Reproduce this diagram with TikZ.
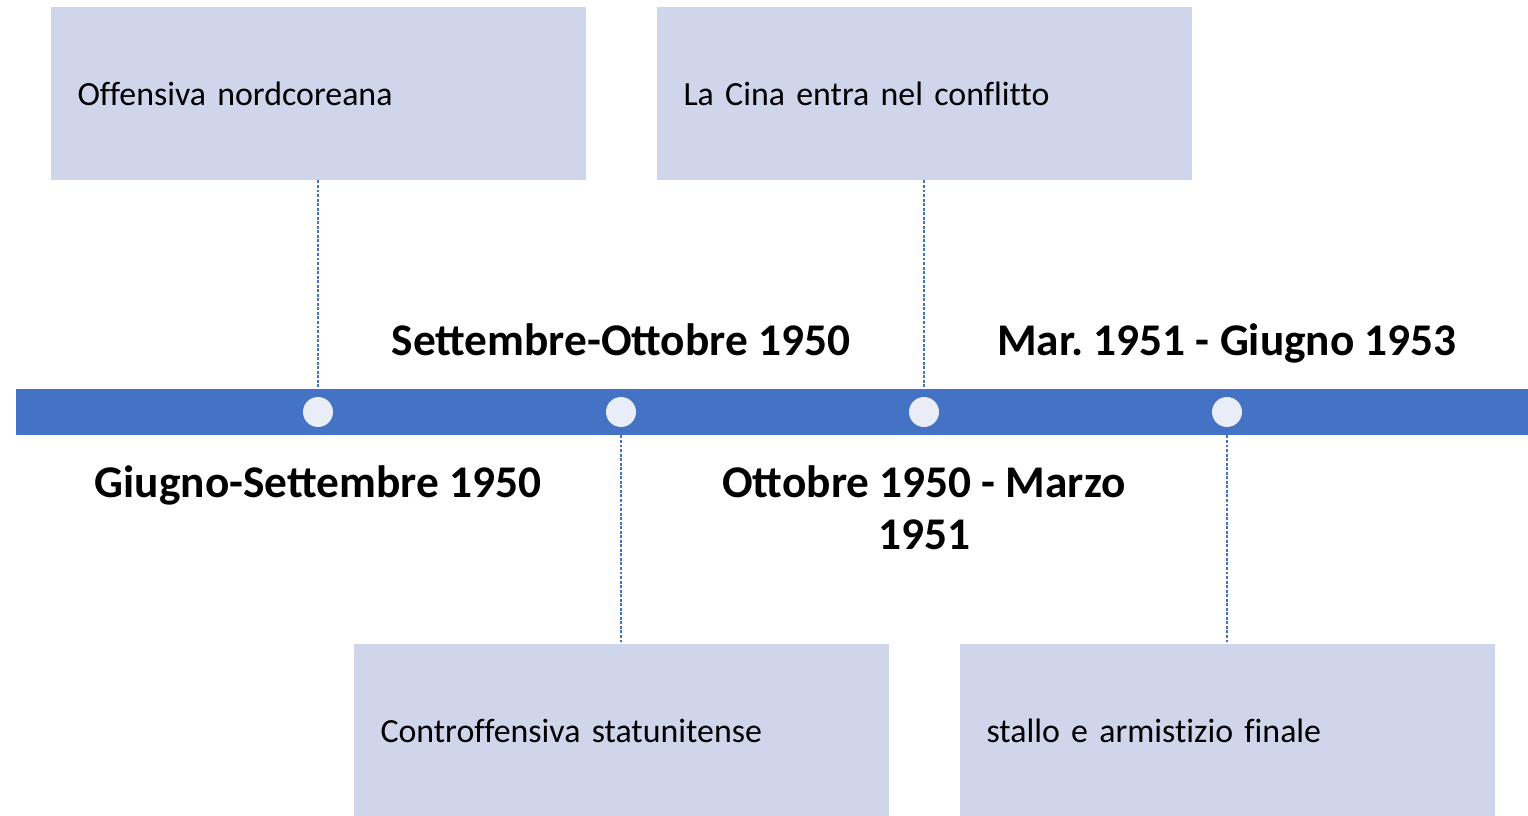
\documentclass[tikz,border=0pt]{standalone}
\usepackage{fontspec}
\setmainfont{Carlito}
\newfontfamily\boxfont{Carlito}[Ligatures=NoCommon]
\newcommand\evfont{\boxfont\fontsize{25.4}{30}\selectfont\fontdimen2\font=4.4pt\relax}
\frenchspacing
\definecolor{barblue}{RGB}{68,114,196}
\definecolor{boxfill}{RGB}{207,213,234}
\definecolor{dotfill}{RGB}{233,237,247}
\tikzset{every picture/.style={line width=0.75pt}}
\tikzset{
  eventbox/.style={rectangle, fill=boxfill, inner sep=0pt, inner xsep=20.25pt,
    minimum width=401.25pt, minimum height=129.75pt, text width=360.75pt,
    align=left, font=\evfont},
  tdot/.style={circle, fill=dotfill, inner sep=0pt, minimum size=22.5pt},
  datelbl/.style={anchor=base, align=center, font=\fontsize{34}{39}\selectfont\bfseries},
  leader/.style={draw=barblue, line width=0.9pt, dash pattern={on 2.2pt off 1.2pt}}
}

\begin{document}
\begin{tikzpicture}[x=0.75pt,y=0.75pt,yscale=-1,xscale=1]
\useasboundingbox (0,0) rectangle (1528,816);

%Shape: Rectangle [id:bar]
\node (bar) [rectangle, fill=barblue, inner sep=0pt, minimum width=1134pt, minimum height=34.5pt] at (772,412) {};

%Shape: Circle [id:dots]
\node (d1) [tdot] at (318,412) {};
\node (d2) [tdot] at (621,412) {};
\node (d3) [tdot] at (924,412) {};
\node (d4) [tdot] at (1227,412) {};

%Shape: Rectangle [id:events]
\node (ev1) [eventbox] at (318,93.5) {Offensiva nordcoreana};
\node (ev2) [eventbox] at (924,93.5) {La Cina entra nel conflitto};
\node (ev3) [eventbox] at (621,730.5) {Controffensiva statunitense};
\node (ev4) [eventbox] at (1227,730.5) {stallo e armistizio finale};

%Straight Lines [id:leaders]
\draw [leader] (ev1.south) -- (ev1.south |- bar.north);
\draw [leader] (ev2.south) -- (ev2.south |- bar.north);
\draw [leader] (d2 |- bar.south) -- (ev3.north);
\draw [leader] (d4 |- bar.south) -- (ev4.north);

% Text Node
\node (lbl1) [datelbl] at (318,497) {Giugno-Settembre 1950};
% Text Node
\node (lbl2) [datelbl] at (621,356) {Settembre-Ottobre 1950};
% Text Node
\node (lbl3) [datelbl] at (924,549) {Ottobre 1950 - Marzo\\1951};
% Text Node
\node (lbl4) [datelbl] at (1227,356) {Mar. 1951 - Giugno 1953};

\end{tikzpicture}
\end{document}
